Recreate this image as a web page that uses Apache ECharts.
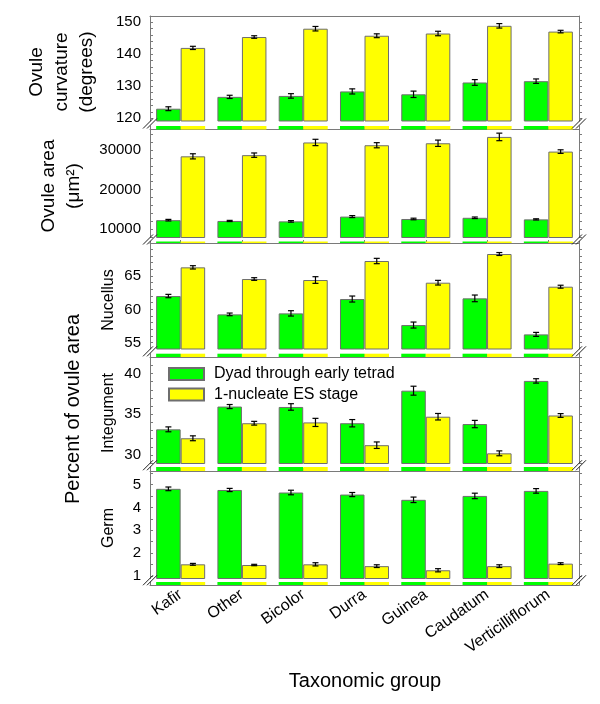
<!DOCTYPE html>
<html><head><meta charset="utf-8">
<script src="https://cdn.jsdelivr.net/npm/echarts@6/dist/echarts.min.js"></script>
<style>html,body{margin:0;padding:0;background:#fff}#c{width:600px;height:704px}</style>
</head><body><div id="c"></div>
<script>
const categories = ['Kafir','Other','Bicolor','Durra','Guinea','Caudatum','Verticilliflorum'];
const seriesNames = ['Dyad through early tetrad','1-nucleate ES stage'];

const curvDyad    = [123.0, 126.7, 127.0, 128.4, 127.5, 131.2, 131.6];
const curvDyadErr = [0.6, 0.5, 0.7, 0.8, 1.0, 0.9, 0.7];
const curvES      = [142.0, 145.4, 148.0, 145.8, 146.5, 148.9, 147.1];
const curvESErr   = [0.5, 0.4, 0.7, 0.6, 0.7, 0.7, 0.4];

const areaDyad    = [12300, 12100, 12000, 13200, 12600, 12900, 12500];
const areaDyadErr = [200, 150, 200, 250, 200, 200, 150];
const areaES      = [28400, 28700, 31900, 31200, 31700, 33300, 29600];
const areaESErr   = [650, 550, 800, 650, 800, 950, 450];

const nucDyad     = [62.0, 59.25, 59.4, 61.55, 57.65, 61.65, 56.25];
const nucDyadErr  = [0.25, 0.2, 0.4, 0.45, 0.45, 0.5, 0.3];
const nucES       = [66.3, 64.55, 64.4, 67.25, 64.0, 68.3, 63.4];
const nucESErr    = [0.25, 0.2, 0.5, 0.4, 0.35, 0.22, 0.22];

const intDyad     = [33.15, 35.95, 35.9, 33.9, 37.9, 33.8, 39.1];
const intDyadErr  = [0.3, 0.25, 0.4, 0.45, 0.55, 0.45, 0.27];
const intES       = [32.05, 33.9, 34.0, 31.2, 34.7, 30.2, 34.85];
const intESErr    = [0.3, 0.23, 0.5, 0.4, 0.4, 0.3, 0.23];

const germDyad    = [4.81, 4.76, 4.65, 4.56, 4.33, 4.50, 4.72];
const germDyadErr = [0.08, 0.07, 0.1, 0.09, 0.12, 0.12, 0.1];
const germES      = [1.51, 1.48, 1.51, 1.43, 1.25, 1.43, 1.54];
const germESErr   = [0.04, 0.03, 0.07, 0.06, 0.07, 0.06, 0.04];

const curvTicks = [120, 130, 140, 150];
const areaTicks = [10000, 20000, 30000];
const nucTicks  = [55, 60, 65];
const intTicks  = [30, 35, 40];
const germTicks = [1, 2, 3, 4, 5];

const FONT = '"Liberation Sans", Arial, Helvetica, sans-serif';
const frame = '#7a7a7a';
const GREEN = '#00ff00', YELLOW = '#ffff00';
const LEFT = 150, WIDTH = 429;

const panels = [
  {dy: curvDyad, dyE: curvDyadErr, es: curvES, esE: curvESErr, ticks: curvTicks, minor: 2,
   top: 16, bottom: 121, stubTop: 126, stubBottom: 129.5, min: 119.16, max: 151.97},
  {dy: areaDyad, dyE: areaDyadErr, es: areaES, esE: areaESErr, ticks: areaTicks, minor: 2000,
   top: 129.5, bottom: 237.5, stubTop: 241.5, stubBottom: 243, min: 7930, max: 35170},
  {dy: nucDyad, dyE: nucDyadErr, es: nucES, esE: nucESErr, ticks: nucTicks, minor: 1,
   top: 243, bottom: 349, stubTop: 353.7, stubBottom: 357, min: 54.06, max: 69.95},
  {dy: intDyad, dyE: intDyadErr, es: intES, esE: intESErr, ticks: intTicks, minor: 1,
   top: 357, bottom: 463.5, stubTop: 467, stubBottom: 471, min: 28.95, max: 42.04},
  {dy: germDyad, dyE: germDyadErr, es: germES, esE: germESErr, ticks: germTicks, minor: 0.5,
   top: 471, bottom: 578.5, stubTop: 582, stubBottom: 585, min: 0.89, max: 5.59}
];

function errRender(sign) {
  return function (params, api) {
    const x = api.value(0), v = api.value(1), e = api.value(2);
    const hi = api.coord([x, v + e]);
    const lo = api.coord([x, v - e]);
    const catW = api.size([1, 0])[0];
    const barW = catW * 0.8 / 2;
    const cx = hi[0] + sign * barW / 2;
    const cap = 3;
    const st = {stroke: '#000', lineWidth: 1.2};
    return {type: 'group', children: [
      {type: 'line', shape: {x1: cx, y1: hi[1], x2: cx, y2: lo[1]}, style: st},
      {type: 'line', shape: {x1: cx - cap, y1: hi[1], x2: cx + cap, y2: hi[1]}, style: st},
      {type: 'line', shape: {x1: cx - cap, y1: lo[1], x2: cx + cap, y2: lo[1]}, style: st}
    ]};
  };
}

const grids = [], xAxes = [], yAxes = [], series = [], graphics = [];
const barStyle = (c) => ({color: c, borderColor: '#6e6e6e', borderWidth: 1});
const stubStyle = (c) => ({color: c, borderWidth: 0});

panels.forEach((p, i) => {
  const gMain = grids.length;
  grids.push({left: LEFT, width: WIDTH, top: p.top, height: p.bottom - p.top});
  const gStub = grids.length;
  grids.push({left: LEFT, width: WIDTH, top: p.stubTop, height: p.stubBottom - p.stubTop});

  const xMain = xAxes.length;
  xAxes.push({type: 'category', gridIndex: gMain, data: categories, position: 'bottom',
    axisLine: {show: false}, axisTick: {show: false}, axisLabel: {show: false}});
  if (i === 0) {
    xAxes.push({type: 'category', gridIndex: gMain, data: categories, position: 'top',
      axisLine: {show: true, lineStyle: {color: frame}}, axisTick: {show: false}, axisLabel: {show: false}});
  }
  const xStub = xAxes.length;
  xAxes.push({type: 'category', gridIndex: gStub, data: categories, position: 'bottom',
    axisLine: {show: true, lineStyle: {color: frame}},
    axisTick: {show: true, inside: true, alignWithLabel: true, length: 3, lineStyle: {color: frame}},
    axisLabel: {show: i === panels.length - 1, rotate: 35, fontSize: 16, fontFamily: FONT,
      color: '#000', margin: 8, interval: 0}});

  const minorVals = [];
  for (let v = Math.ceil(p.min / p.minor) * p.minor; v <= p.max + 1e-9; v += p.minor) {
    minorVals.push(Math.round(v * 1e6) / 1e6);
  }

  const yMain = yAxes.length;
  yAxes.push({type: 'value', gridIndex: gMain, position: 'left', min: p.min, max: p.max,
    splitLine: {show: false},
    axisLine: {show: true, lineStyle: {color: frame}},
    axisTick: {show: true, inside: true, length: 3, customValues: minorVals, lineStyle: {color: frame}},
    axisLabel: {show: true, customValues: p.ticks, formatter: (v) => String(v), fontSize: 15,
      fontFamily: FONT, color: '#000', margin: 9}});
  yAxes.push({type: 'value', gridIndex: gMain, position: 'right', min: p.min, max: p.max,
    splitLine: {show: false},
    axisLine: {show: true, lineStyle: {color: frame}},
    axisTick: {show: true, inside: false, length: 3, customValues: minorVals, lineStyle: {color: frame}},
    axisLabel: {show: false}});
  const yStub = yAxes.length;
  yAxes.push({type: 'value', gridIndex: gStub, position: 'left', min: 0, max: 1,
    splitLine: {show: false}, axisLine: {show: true, lineStyle: {color: frame}},
    axisTick: {show: false}, axisLabel: {show: false}});
  yAxes.push({type: 'value', gridIndex: gStub, position: 'right', min: 0, max: 1,
    splitLine: {show: false}, axisLine: {show: true, lineStyle: {color: frame}},
    axisTick: {show: false}, axisLabel: {show: false}});

  const common = {type: 'bar', barGap: '0%', barCategoryGap: '20%', clip: true, silent: true};
  series.push(Object.assign({}, common, {name: seriesNames[0], xAxisIndex: xMain, yAxisIndex: yMain,
    data: p.dy, itemStyle: barStyle(GREEN)}));
  series.push(Object.assign({}, common, {name: seriesNames[1], xAxisIndex: xMain, yAxisIndex: yMain,
    data: p.es, itemStyle: barStyle(YELLOW)}));
  series.push(Object.assign({}, common, {name: seriesNames[0] + ' ', xAxisIndex: xStub, yAxisIndex: yStub,
    data: p.dy, itemStyle: stubStyle(GREEN)}));
  series.push(Object.assign({}, common, {name: seriesNames[1] + ' ', xAxisIndex: xStub, yAxisIndex: yStub,
    data: p.es, itemStyle: stubStyle(YELLOW)}));
  series.push({type: 'custom', name: 'errDyad' + i, xAxisIndex: xMain, yAxisIndex: yMain, z: 5, silent: true,
    renderItem: errRender(-1), encode: {x: 0, y: 1},
    data: categories.map((c, j) => [j, p.dy[j], p.dyE[j]])});
  series.push({type: 'custom', name: 'errES' + i, xAxisIndex: xMain, yAxisIndex: yMain, z: 5, silent: true,
    renderItem: errRender(1), encode: {x: 0, y: 1},
    data: categories.map((c, j) => [j, p.es[j], p.esE[j]])});

  // axis-break marks
  const yc = (p.bottom + p.stubTop) / 2;
  [LEFT, LEFT + WIDTH].forEach((x) => {
    [-2, 2].forEach((dx) => {
      graphics.push({type: 'line', silent: true, z: 100,
        shape: {x1: x - 5 + dx, y1: yc + 5, x2: x + 5 + dx, y2: yc - 5},
        style: {stroke: '#222', lineWidth: 1}});
    });
  });
});

function txt(text, x, y, size, rot, lh) {
  return {type: 'text', x: x, y: y, rotation: rot ? Math.PI / 2 : 0, silent: true, z: 100,
    style: {text: text, font: size + 'px ' + FONT, fill: '#000',
      align: 'center', verticalAlign: 'middle', textAlign: 'center', textVerticalAlign: 'middle',
      lineHeight: lh || Math.round(size * 1.25)}};
}
graphics.push(txt('Ovule\ncurvature\n(degrees)', 62, 72, 19, true, 25));
graphics.push(txt('Ovule area\n(\u03bcm\u00b2)', 61, 186, 19, true, 25));
graphics.push(txt('Percent of ovule area', 73, 409, 20, true));
graphics.push(txt('Nucellus', 109, 300, 16, true));
graphics.push(txt('Integument', 109, 413, 16, true));
graphics.push(txt('Germ', 109, 528, 16, true));
graphics.push(txt('Taxonomic group', 365, 681, 20, false));

const chart = echarts.init(document.getElementById('c'), null, {renderer: 'canvas'});
chart.setOption({
  animation: false,
  backgroundColor: '#fff',
  grid: grids, xAxis: xAxes, yAxis: yAxes, series: series,
  legend: {data: seriesNames, orient: 'vertical', left: 163, top: 361, itemWidth: 35, itemHeight: 12,
    itemGap: 4.5, icon: 'rect', selectedMode: false,
    textStyle: {fontSize: 16, lineHeight: 16, fontFamily: FONT, color: '#000', padding: [0, 0, 0, 5]}},
  graphic: graphics
});
</script></body></html>
